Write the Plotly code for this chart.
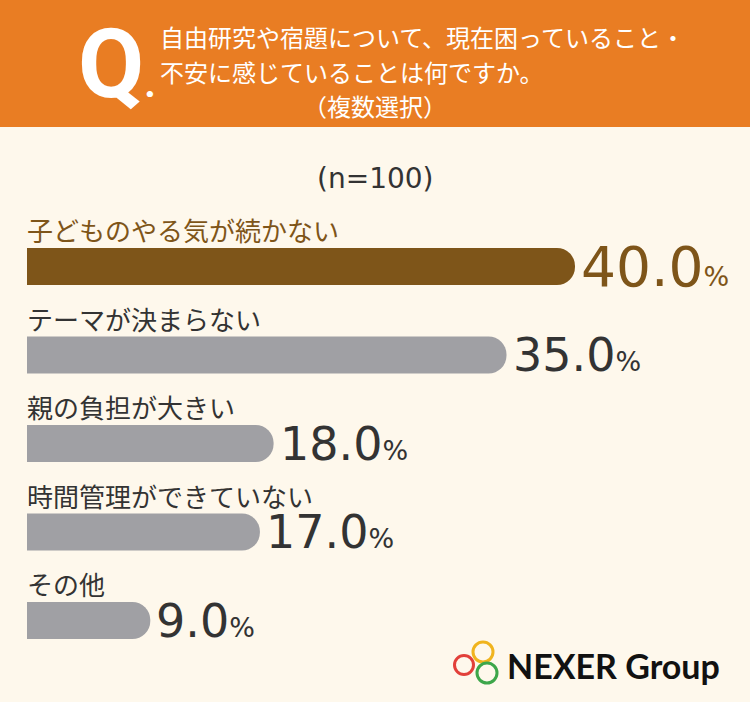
import plotly.graph_objects as go

W, H = 750, 702

categories = ["子どものやる気が続かない", "テーマが決まらない", "親の負担が大きい", "時間管理ができていない", "その他"]
values = [40.0, 35.0, 18.0, 17.0, 9.0]
highlight = [True, False, False, False, False]

title_lines = ["自由研究や宿題について、現在困っていること・", "不安に感じていることは何ですか。", "（複数選択）"]
sample_note = "(n=100)"
brand = "NEXER Group"

ORANGE = "#E97D23"
CREAM = "#FEF8EC"
BROWN = "#7E5519"
GRAY = "#A0A0A4"
DARK = "#333333"
JP = "Noto Sans CJK JP"
NUM = "DejaVu Sans"


def px(x):
    return x / W


def py(y):
    return 1 - y / H


# axis mapping: 0% at pixel 27, 40% at pixel 575
ppu = (575 - 27) / 40.0
x_range = [-27 / ppu, (W - 27) / ppu]
# bar centers at pixel 266.5 + 88.5*i
step = 88.5
y_range = [(H - 266.5) / step, -266.5 / step]

bar_colors = [BROWN if h else GRAY for h in highlight]
text_colors = [BROWN if h else DARK for h in highlight]

fig = go.Figure()
fig.add_trace(go.Bar(
    x=values,
    y=list(range(len(values))),
    orientation="h",
    marker=dict(color=bar_colors, line=dict(width=0)),
    width=37 / step,
    hoverinfo="skip",
))

shapes = [
    dict(type="rect", xref="paper", yref="paper", x0=0, x1=1, y0=py(127), y1=1,
         fillcolor=ORANGE, line=dict(width=0), layer="below"),
]

# logo rings
for cx, cy, r, col in [(483, 652, 10, "#F0B41E"), (464, 665, 9.5, "#E2403A"), (487, 673, 10, "#3DA64A")]:
    shapes.append(dict(type="circle", xref="paper", yref="paper",
                       x0=px(cx - r), x1=px(cx + r), y0=py(cy + r), y1=py(cy - r),
                       line=dict(color=col, width=3), fillcolor="rgba(0,0,0,0)"))

annotations = [
    dict(text="<b>Q<span style='font-size:40px'>.</span></b>", x=px(76), y=py(64),
         xref="paper", yref="paper", showarrow=False,
         font=dict(family="Roboto", size=96, color="white"), xanchor="left", yanchor="middle"),
    dict(text=title_lines[0], x=px(158), y=py(37), xref="paper", yref="paper", showarrow=False,
         font=dict(family=JP, size=24, color="white"), xanchor="left", yanchor="middle"),
    dict(text=title_lines[1], x=px(158), y=py(72), xref="paper", yref="paper", showarrow=False,
         font=dict(family=JP, size=24, color="white"), xanchor="left", yanchor="middle"),
    dict(text=title_lines[2], x=px(375), y=py(105), xref="paper", yref="paper", showarrow=False,
         font=dict(family=JP, size=24, color="white"), xanchor="center", yanchor="middle"),
    dict(text=sample_note, x=px(375), y=py(178), xref="paper", yref="paper", showarrow=False,
         font=dict(family=NUM, size=28, color=DARK), xanchor="center", yanchor="middle"),
    dict(text="<b>" + brand + "</b>", x=px(505), y=py(665), xref="paper", yref="paper", showarrow=False,
         font=dict(family="Lato", size=34, color="#111111"), xanchor="left", yanchor="middle"),
]

for i, (cat, v) in enumerate(zip(categories, values)):
    annotations.append(dict(
        text=cat, x=0, y=i, xref="x", yref="y", showarrow=False, xanchor="left", yanchor="middle",
        yshift=37, xshift=-2, font=dict(family=JP, size=26, color=text_colors[i])))
    size = 55 if i == 0 else 46
    annotations.append(dict(
        text=f"{v:.1f}<span style='font-size:27px'>%</span>", x=v, y=i, xref="x", yref="y",
        showarrow=False, xanchor="left", yanchor="middle", xshift=4, yshift=0,
        font=dict(family=NUM, size=size, color=text_colors[i])))

fig.update_layout(
    width=W, height=H, margin=dict(l=0, r=0, t=0, b=0),
    paper_bgcolor=CREAM, plot_bgcolor="rgba(0,0,0,0)",
    showlegend=False, barcornerradius=18,
    xaxis=dict(range=x_range, visible=False, fixedrange=True),
    yaxis=dict(range=y_range, visible=False, fixedrange=True),
    shapes=shapes, annotations=annotations,
)

fig.write_html("out.html", config={"displayModeBar": False},
               post_script="document.body.style.margin='0';document.body.style.padding='0';")
